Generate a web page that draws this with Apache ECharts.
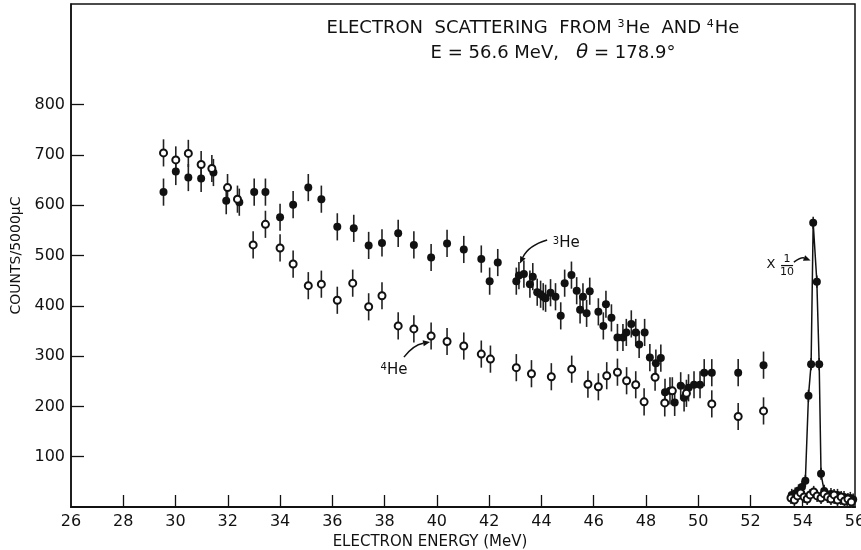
<!DOCTYPE html>
<html><head><meta charset="utf-8">
<script src="https://cdn.jsdelivr.net/npm/echarts@6/dist/echarts.min.js"></script>
<style>html,body{margin:0;padding:0;background:#fff}#c{width:861px;height:550px}</style>
</head><body><div id="c"></div>
<script>
// ---- data ----
const HE3_E = [29.54,30.01,30.49,30.98,31.45,31.94,32.44,33.01,33.44,34.0,34.5,35.08,35.58,36.19,36.82,37.39,37.9,38.52,39.12,39.78,40.39,41.03,41.7,42.02,42.33,43.04,43.14,43.33,43.56,43.67,43.84,43.97,44.07,44.16,44.35,44.54,44.74,44.89,45.15,45.35,45.48,45.59,45.73,45.85,46.18,46.37,46.47,46.68,46.91,47.12,47.25,47.44,47.61,47.74,47.95,48.15,48.38,48.57,48.73,48.92,49.10,49.33,49.46,49.63,49.84,50.07,50.23,50.52,51.53,52.5];
const HE3_V = [626,667,655,653,665,609,606,626,626,576,601,635,612,557,554,520,525,544,521,496,524,512,493,449,486,449,460,463,443,458,427,423,418,415,426,418,380,445,461,430,392,418,385,429,388,360,403,376,337,337,347,364,347,323,347,297,286,296,228,231,208,241,217,237,243,243,267,267,267,282];
const HE4_E = [29.54,30.01,30.49,30.98,31.39,31.99,32.37,32.97,33.44,34.0,34.5,35.08,35.58,36.19,36.78,37.39,37.9,38.52,39.12,39.78,40.39,41.03,41.7,42.05,43.04,43.62,44.38,45.16,45.78,46.18,46.5,46.91,47.26,47.61,47.93,48.35,48.72,49.01,49.55,50.52,51.53,52.5];
const HE4_V = [704,690,703,681,673,635,612,521,562,515,483,440,443,411,445,398,420,360,354,340,329,320,304,294,277,265,259,274,244,239,261,268,251,243,209,258,207,231,226,205,180,191];
// elastic peak region (3He, plotted x 1/10)
const PEAK_E = [53.58,53.71,53.84,53.97,54.1,54.22,54.32,54.4,54.54,54.63,54.7,54.82];
const PEAK_V = [24,27,33,40,52,221,284,565,448,284,66,32];
const LOW3_E = [54.95,55.08,55.2,55.33,55.46,55.58,55.7,55.82,55.93];
const LOW3_V = [22,26,18,24,16,20,14,18,15];
const LOW4_E = [53.55,53.68,53.8,53.92,54.05,54.17,54.28,54.42,54.55,54.7,54.82,54.95,55.08,55.2,55.33,55.47,55.6,55.73,55.86];
const LOW4_V = [18,14,22,28,20,16,24,30,22,18,26,20,16,24,14,20,12,16,10];
const ERR_MAIN = 27, ERR_PEAK = 12, ERR_LOW = 12;
const X_LABELS = [26,28,30,32,34,36,38,40,42,44,46,48,50,52,54,56];
const X_TICKS = [28,30,32,34,36,38,40,42,44,46,48,50,52,54];
const Y_LABELS = [100,200,300,400,500,600,700,800];

const FONT = 'DejaVu Sans';
const pairs = (xs, ys) => xs.map((x, i) => [x, ys[i]]);
const errs = (xs, ys, e) => xs.map((x, i) => [x, ys[i] - e, ys[i] + e]);

const errData = [].concat(
  errs(HE3_E, HE3_V, ERR_MAIN), errs(HE4_E, HE4_V, ERR_MAIN),
  errs(PEAK_E, PEAK_V, ERR_PEAK), errs(LOW3_E, LOW3_V, ERR_LOW), errs(LOW4_E, LOW4_V, ERR_LOW));

// annotation anchors in data units
const ANN = {
  he3: { text: [44.95, 524], from: [44.22, 531], ctrl: [43.5, 520], to: [43.18, 484] },
  he4: { text: [38.36, 272], from: [38.74, 298], ctrl: [39.1, 322], to: [39.74, 328] },
  x10: { x: [52.78, 481], frac: [53.4, 480], from: [53.66, 487], ctrl: [53.95, 497], to: [54.3, 490] }
};

function arrow(api, a, color) {
  const p0 = api.coord(a.from), c = api.coord(a.ctrl), p1 = api.coord(a.to);
  const dx = p1[0] - c[0], dy = p1[1] - c[1], L = Math.hypot(dx, dy) || 1;
  const ux = dx / L, uy = dy / L, h = 7, w = 3;
  const bx = p1[0] - ux * h, by = p1[1] - uy * h;
  return [
    { type: 'bezierCurve', shape: { x1: p0[0], y1: p0[1], cpx1: c[0], cpy1: c[1], x2: bx, y2: by },
      style: { stroke: color, lineWidth: 1.5, fill: null } },
    { type: 'polygon', shape: { points: [[p1[0], p1[1]], [bx - uy * w, by + ux * w], [bx + uy * w, by - ux * w]] },
      style: { fill: color } }
  ];
}

const option = {
  animation: false,
  backgroundColor: '#fff',
  title: [
    { text: 'ELECTRON  SCATTERING  FROM {s|3}He  AND {s|4}He', left: 528, top: 14, textAlign: 'center',
      textStyle: { fontFamily: FONT, fontSize: 18, fontWeight: 'normal', color: '#111',
        rich: { s: { fontFamily: FONT, fontSize: 11, verticalAlign: 'top', padding: [0, 1, 0, 0] } } } },
    { text: 'E = 56.6 MeV,   {i|θ} = 178.9°', left: 548, top: 38, textAlign: 'center',
      textStyle: { fontFamily: FONT, fontSize: 18, fontWeight: 'normal', color: '#111',
        rich: { i: { fontFamily: FONT, fontSize: 20, fontStyle: 'italic' } } } }
  ],
  grid: { left: 71, right: 6, top: 4, bottom: 43, outerBoundsMode: 'none', containLabel: false,
    show: true, borderColor: '#111', borderWidth: 1.5 },
  xAxis: {
    type: 'value', min: 26, max: 56, interval: 2,
    name: 'ELECTRON ENERGY (MeV)', nameLocation: 'middle', nameGap: 28,
    nameTextStyle: { fontFamily: FONT, fontSize: 15, color: '#111', padding: [0, 66, 0, 0] },
    axisLine: { lineStyle: { color: '#111', width: 2 } },
    axisTick: { inside: true, length: 12, lineStyle: { color: '#111', width: 1.3 }, customValues: X_TICKS },
    axisLabel: { fontFamily: FONT, fontSize: 16, color: '#111', margin: 7, customValues: X_LABELS },
    splitLine: { show: false }
  },
  yAxis: {
    type: 'value', min: 0, max: 1000, interval: 100,
    name: 'COUNTS/5000μC', nameLocation: 'middle', nameGap: 44, nameRotate: 90,
    nameTextStyle: { fontFamily: FONT, fontSize: 14, color: '#111' },
    axisLine: { show: true, lineStyle: { color: '#111', width: 1.5 } },
    axisTick: { show: true, inside: true, length: 13, lineStyle: { color: '#111', width: 1.3 }, customValues: Y_LABELS },
    axisLabel: { fontFamily: FONT, fontSize: 16, color: '#111', margin: 6, customValues: Y_LABELS },
    splitLine: { show: false }
  },
  series: [
    { type: 'custom', name: 'err', data: errData, z: 1,
      renderItem: (params, api) => {
        const a = api.coord([api.value(0), api.value(1)]), b = api.coord([api.value(0), api.value(2)]);
        return { type: 'line', shape: { x1: a[0], y1: a[1], x2: b[0], y2: b[1] },
          style: { stroke: '#222', lineWidth: 1.6 } };
      } },
    { type: 'line', name: 'peak', data: pairs(PEAK_E, PEAK_V), z: 2, showSymbol: false,
      lineStyle: { color: '#111', width: 1.5 } },
    { type: 'scatter', name: '3He', z: 3, symbol: 'circle', symbolSize: 8,
      data: [].concat(pairs(HE3_E, HE3_V), pairs(PEAK_E, PEAK_V), pairs(LOW3_E, LOW3_V)),
      itemStyle: { color: '#111', opacity: 1 } },
    { type: 'scatter', name: '4He', z: 4, symbol: 'circle', symbolSize: 7,
      data: [].concat(pairs(HE4_E, HE4_V), pairs(LOW4_E, LOW4_V)),
      itemStyle: { color: '#fff', borderColor: '#111', borderWidth: 2, opacity: 1 } },
    { type: 'custom', name: 'ann', data: [[0]], z: 5, silent: true,
      renderItem: (params, api) => {
        const ch = [];
        const t3 = api.coord(ANN.he3.text), t4 = api.coord(ANN.he4.text);
        ch.push({ type: 'text', x: t3[0], y: t3[1], style: { text: '{s|3}He', fontFamily: FONT, fontSize: 15, fill: '#111',
          align: 'center', verticalAlign: 'middle', rich: { s: { fontSize: 10, verticalAlign: 'top', fontFamily: FONT } } } });
        ch.push({ type: 'text', x: t4[0], y: t4[1], style: { text: '{s|4}He', fontFamily: FONT, fontSize: 15, fill: '#111',
          align: 'center', verticalAlign: 'middle', rich: { s: { fontSize: 10, verticalAlign: 'top', fontFamily: FONT } } } });
        const px = api.coord(ANN.x10.x), pf = api.coord(ANN.x10.frac);
        ch.push({ type: 'text', x: px[0], y: px[1], style: { text: 'X', fontFamily: FONT, fontSize: 13, fill: '#111', align: 'center', verticalAlign: 'middle' } });
        ch.push({ type: 'text', x: pf[0], y: pf[1] - 6, style: { text: '1', fontFamily: FONT, fontSize: 11, fill: '#111', align: 'center', verticalAlign: 'middle' } });
        ch.push({ type: 'line', shape: { x1: pf[0] - 6, y1: pf[1], x2: pf[0] + 6, y2: pf[1] }, style: { stroke: '#111', lineWidth: 1.2 } });
        ch.push({ type: 'text', x: pf[0], y: pf[1] + 7, style: { text: '10', fontFamily: FONT, fontSize: 11, fill: '#111', align: 'center', verticalAlign: 'middle' } });
        return { type: 'group', children: ch.concat(arrow(api, ANN.he3, '#111'), arrow(api, ANN.he4, '#111'), arrow(api, ANN.x10, '#111')) };
      } }
  ]
};
const chart = echarts.init(document.getElementById('c'));
chart.setOption(option);
</script></body></html>
